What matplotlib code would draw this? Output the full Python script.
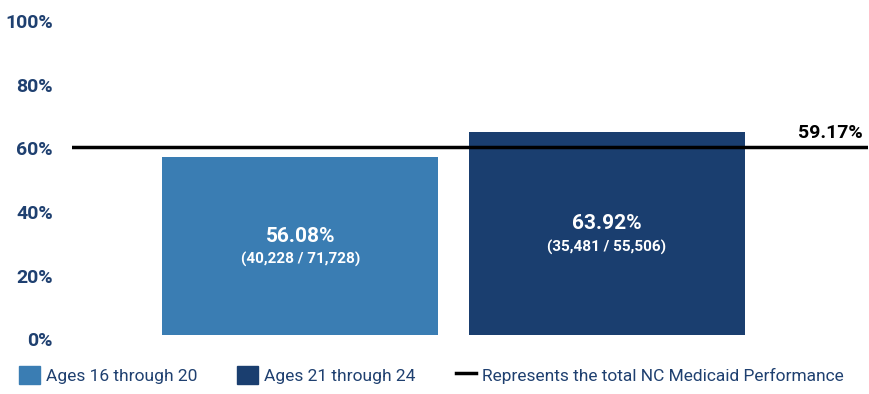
import matplotlib.pyplot as plt
import matplotlib.transforms as mtransforms
from matplotlib.patches import Patch
from matplotlib.lines import Line2D

plt.rcParams['font.family'] = ['Roboto', 'DejaVu Sans']

groups = ['Ages 16 through 20', 'Ages 21 through 24']
rates = [56.08, 63.92]
counts = ['(40,228 / 71,728)', '(35,481 / 55,506)']
total_rate = 59.17
bar_colors = ['#3a7db3', '#1a3e6f']
navy = '#1f4070'

fig = plt.figure(figsize=(8.7, 3.94), dpi=100)
ax = fig.add_axes([0.083, 0.1497, 0.915, 0.806])

xpos = list(range(len(groups)))
ax.bar(xpos, rates, width=0.9, color=bar_colors)
ax.axhline(total_rate, color='black', lw=2.5)

# percentage and numerator/denominator, around the middle of each bar
for x, r, c in zip(xpos, rates, counts):
    ax.text(x, r / 2 + 3, f'{r:.2f}%', ha='center', va='center',
            color='white', fontsize=15, fontweight='bold')
    ax.text(x, r / 2 - 4.3, c, ha='center', va='center',
            color='white', fontsize=11, fontweight='bold')

ax.text(1.835, total_rate + 1.5, f'{total_rate:.2f}%', ha='right', va='bottom',
        fontsize=14, fontweight='bold', color='black')

ax.set_xlim(-0.744, 1.853)
ax.set_ylim(0, 100)
ax.set_yticks(range(0, 101, 20))
ax.set_yticklabels([f'{v}%' for v in range(0, 101, 20)])
ax.tick_params(axis='y', length=0, pad=14, labelsize=14, labelcolor=navy)
for lab in ax.get_yticklabels():
    lab.set_fontweight('bold')
    lab.set_transform(lab.get_transform() +
                      mtransforms.ScaledTranslation(0, -4 / 100, fig.dpi_scale_trans))
ax.set_xticks([])
for s in ax.spines.values():
    s.set_visible(False)

handles = [Patch(color=bar_colors[0]), Patch(color=bar_colors[1]),
           Line2D([], [], color='black', lw=2.5)]
labels = groups + ['Represents the total NC Medicaid Performance']
leg = fig.legend(handles, labels, loc='lower left', bbox_to_anchor=(0.01, 0.0),
                 borderaxespad=0.2, ncol=3, frameon=False, fontsize=12.5,
                 handlelength=1.2, handleheight=1.2, handletextpad=0.35,
                 columnspacing=2.3)
for t in leg.get_texts():
    t.set_color(navy)

fig.savefig('out.png', dpi=100)
